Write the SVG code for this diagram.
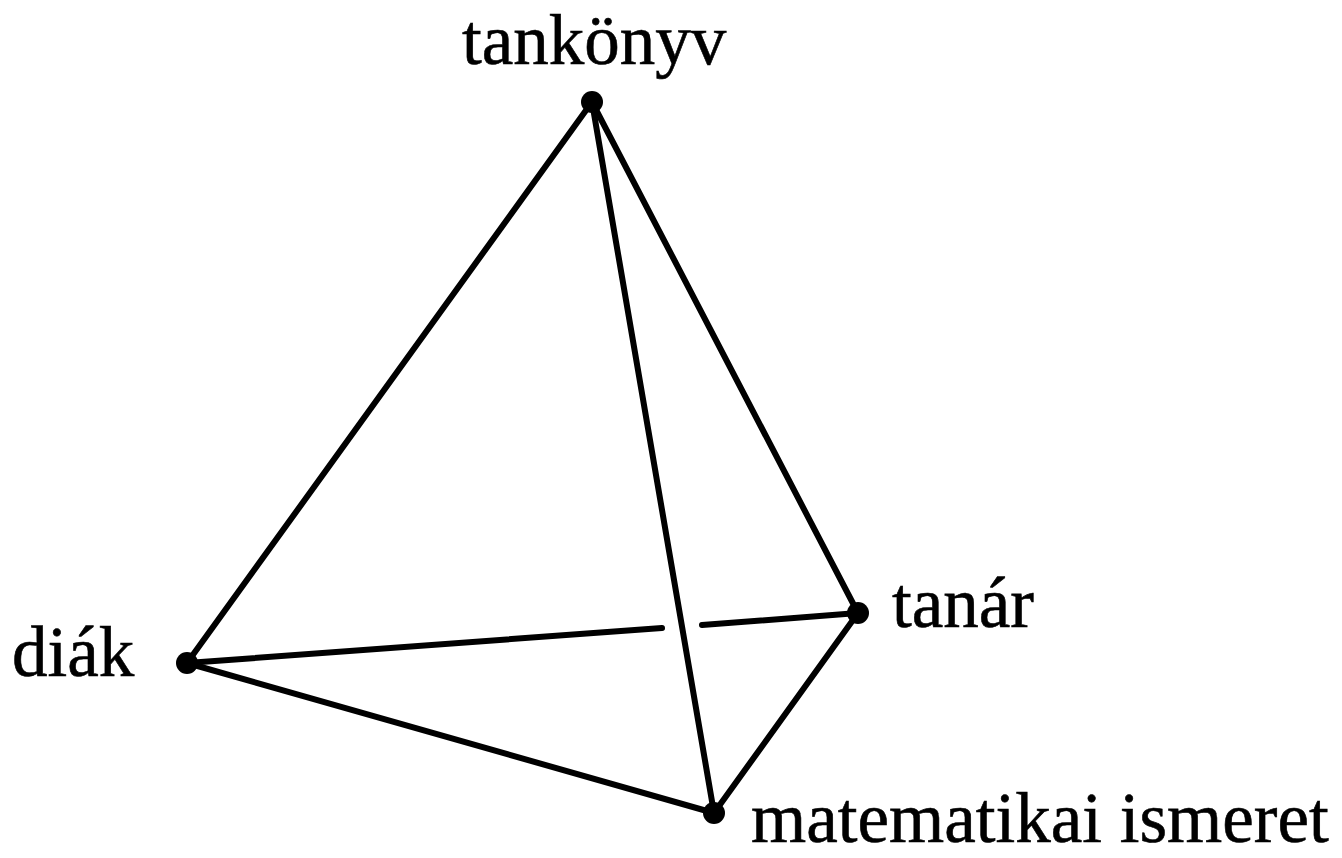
<svg xmlns="http://www.w3.org/2000/svg" width="1342" height="858" viewBox="0 0 1342 858">
<style>
.edge{stroke:#000;stroke-width:6;stroke-linecap:round;fill:none}
.dot{fill:#000}
.lbl{font-family:"Liberation Serif","Times New Roman",serif;font-size:71px;fill:#000;stroke:#000;stroke-width:0.6}
</style>
<rect width="1342" height="858" fill="#fff"/>
<g id="connectors">
<line class="edge" x1="592" y1="102" x2="187" y2="663"/>
<line class="edge" x1="592" y1="102" x2="858" y2="613"/>
<line class="edge" x1="592" y1="102" x2="714" y2="813"/>
<line class="edge" x1="187" y1="663" x2="662" y2="628"/>
<line class="edge" x1="702" y1="625" x2="858" y2="613"/>
<line class="edge" x1="187" y1="663" x2="714" y2="813"/>
<line class="edge" x1="858" y1="613" x2="714" y2="813"/>
</g>
<g id="tankonyv"><circle class="dot" cx="592" cy="102" r="11"/><text class="lbl" x="462" y="64">tankönyv</text></g>
<g id="diak"><circle class="dot" cx="187" cy="663" r="11"/><text class="lbl" x="12" y="676">diák</text></g>
<g id="tanar"><circle class="dot" cx="858" cy="613" r="11"/><text class="lbl" x="892" y="627">tanár</text></g>
<g id="matematikai"><circle class="dot" cx="714" cy="813" r="11"/><text class="lbl" x="751" y="842">matematikai ismeret</text></g>
</svg>
